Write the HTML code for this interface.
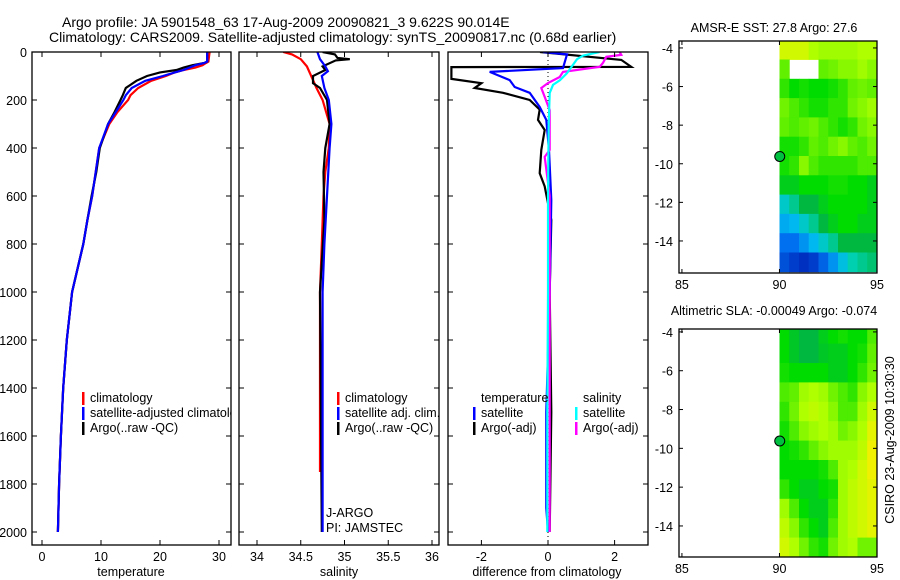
<!DOCTYPE html>
<html><head><meta charset="utf-8"><style>
html,body{margin:0;padding:0;background:#fff}
svg{display:block;font-family:"Liberation Sans",sans-serif}
</style></head><body>
<svg id="c" width="900" height="580" viewBox="0 0 900 580" xmlns="http://www.w3.org/2000/svg">
<text x="62" y="27" font-size="14">Argo profile: JA 5901548_63 17-Aug-2009 20090821_3 9.622S 90.014E</text>
<text x="49" y="42" font-size="14">Climatology: CARS2009. Satellite-adjusted climatology: synTS_20090817.nc (0.68d earlier)</text>
<text x="774" y="32" font-size="12.5" text-anchor="middle">AMSR-E SST: 27.8 Argo: 27.6</text>
<text x="774" y="315" font-size="12.5" text-anchor="middle">Altimetric SLA: -0.00049 Argo: -0.074</text>
<text transform="translate(894,440) rotate(-90)" font-size="12.5" text-anchor="middle">CSIRO 23-Aug-2009 10:30:30</text>
<defs>
<clipPath id="cp1"><rect x="32" y="52" width="199" height="493"/></clipPath>
<clipPath id="cp2"><rect x="239" y="52" width="200" height="493"/></clipPath>
<clipPath id="cp3"><rect x="448" y="52" width="200" height="493"/></clipPath>
</defs>
<g id="p1" clip-path="url(#cp1)"></g>
<g id="p2" clip-path="url(#cp2)"></g>
<g id="p3" clip-path="url(#cp3)"></g>
<g id="ax"></g>
<g id="m1"></g>
<g id="m2"></g>
</svg>
<script>
// ---- profile data ----
const tDepth = [0,40,46,55,65,75,85,100,120,150,180,200,250,300,400,500,600,700,800,1000,1200,1400,1600,1800,2000];
const tClim  = [28.4,28.2,27.8,27.2,26,24,22.5,21,18.5,16.3,15,14.6,12.8,11.4,9.7,9.1,8.5,7.7,7.0,5.1,4.2,3.6,3.2,2.9,2.7];
const tSat   = [28,28,27.5,26,25,24,22.5,20.5,17.5,15.2,14.2,13.8,12.5,11.2,9.7,9.1,8.5,7.7,7.0,5.1,4.2,3.6,3.2,2.9,2.7];
const tArgo  = [28,28,27.5,25.5,24,22.8,20,17.8,16,14.2,13.7,13.3,12.3,11.2,9.8,9.2,8.4,7.7,7.0,5.1,4.2,3.6,3.2,2.9,2.7];

const sClimDepth = [0,10,30,60,100,150,200,300,400,500,600,800,1000,1500,1750];
const sClim      = [34.30,34.4,34.5,34.57,34.62,34.68,34.75,34.83,34.82,34.78,34.76,34.74,34.72,34.72,34.72];
const sSatDepth  = [0,30,60,80,100,150,200,300,400,600,800,1000,1500,2000];
const sSat       = [34.69,34.72,34.78,34.81,34.74,34.77,34.82,34.85,34.83,34.8,34.77,34.75,34.75,34.75];
const sArgoDepth = [0,10,25,30,35,60,75,100,130,150,200,300,400,500,700,1000,1500,2000];
const sArgo      = [34.75,34.89,34.92,35.06,34.9,34.75,34.78,34.64,34.64,34.72,34.8,34.83,34.78,34.76,34.77,34.72,34.73,34.74];

const dTArgoDepth = [0,33,62,63,112,130,150,170,200,240,283,325,408,505,560,700,1000,1500,2000];
const dTArgo      = [-0.24,2.2,2.5,-2.9,-2.9,-2.0,-2.2,-1.35,-0.55,-0.25,-0.3,-0.1,-0.2,-0.25,-0.1,0.1,0.05,0.1,0.05];
const dTSatDepth  = [0,10,67,83,117,146,170,229,283,408,617,1000,1500,1900,2000];
const dTSat       = [-0.15,0.57,0.45,-1.75,-1.15,-1.0,-0.55,-0.25,-0.05,0.03,0.1,0.05,-0.05,-0.05,0];
const dSSatDepth  = [0,15,30,88,117,137,171,300,600,1000,1500,2000];
const dSSat       = [1.55,1.05,0.87,0.57,0.36,0.15,0.05,0.02,0,0,-0.02,-0.02];
const dSArgoDepth = [0,12,20,46,62,83,104,129,150,187,242,408,437,600,1000,1500,2000];
const dSArgo      = [2.15,2.2,1.75,1.65,1.55,0.45,0.35,0,-0.2,-0.1,0.05,0.05,-0.1,0.05,0.05,0.05,0.05];

// ---- map data (colour index 0..1), rows from north, columns 90..95 by 0.5 deg ----
const sstRows = [
[0.85,0.85,0.85,0.8,0.78,0.78,0.78,0.78,0.8,0.8],
[0.7,null,null,null,0.7,0.72,0.75,0.75,0.78,0.75],
[0.65,0.6,0.62,0.6,0.6,0.62,0.65,0.7,0.72,0.7],
[0.72,0.68,0.65,0.62,0.62,0.65,0.65,0.72,0.75,0.78],
[0.7,0.68,0.7,0.72,0.68,0.65,0.62,0.65,0.72,0.75],
[0.62,0.62,0.65,0.7,0.68,0.72,0.75,0.7,0.68,0.72],
[0.62,0.65,0.75,0.68,0.65,0.65,0.65,0.65,0.68,0.68],
[0.58,0.58,0.6,0.6,0.6,0.62,0.62,0.6,0.6,0.58],
[0.45,0.5,0.55,0.55,0.58,0.6,0.6,0.6,0.6,0.58],
[0.38,0.4,0.45,0.5,0.55,0.58,0.6,0.6,0.58,0.58],
[0.3,0.3,0.35,0.4,0.45,0.5,0.55,0.55,0.55,0.55],
[0.25,0.22,0.2,0.22,0.28,0.35,0.42,0.48,0.5,0.52]];
const slaRows = [
[0.6,0.57,0.55,0.55,0.58,0.6,0.62,0.6,0.6,0.68],
[0.6,0.57,0.55,0.55,0.57,0.58,0.58,0.6,0.62,0.7],
[0.62,0.6,0.6,0.6,0.6,0.58,0.58,0.6,0.65,0.72],
[0.68,0.7,0.78,0.8,0.78,0.72,0.68,0.65,0.75,0.8],
[0.65,0.72,0.8,0.82,0.8,0.75,0.68,0.68,0.78,0.85],
[0.62,0.68,0.75,0.78,0.8,0.78,0.72,0.75,0.8,0.88],
[0.6,0.62,0.65,0.7,0.75,0.78,0.78,0.78,0.82,0.9],
[0.6,0.6,0.6,0.6,0.62,0.68,0.78,0.8,0.85,0.9],
[0.65,0.6,0.58,0.58,0.6,0.62,0.78,0.82,0.85,0.88],
[0.78,0.68,0.6,0.58,0.58,0.65,0.78,0.82,0.85,0.88],
[0.82,0.75,0.65,0.6,0.58,0.68,0.78,0.82,0.85,0.88],
[0.85,0.8,0.72,0.65,0.62,0.72,0.78,0.8,0.72,0.72]];
const mapLon0 = 90, mapDLon = 0.5, mapLat0 = -3.6, mapDLat = 1;
const floatLon = 90.014, floatLat = -9.622;

const NS='http://www.w3.org/2000/svg';
function mk(parent,tag,attrs){const e=document.createElementNS(NS,tag);for(const k in attrs)e.setAttribute(k,attrs[k]);parent.appendChild(e);return e;}
const yD = d => 52 + d*0.24;
const xT = v => 42 + v*5.9;
const xS = v => 257 + (v-34)*87.5;
const xDf = v => 548 + v*33.3;

function line(g,xs,ds,xf,col,name){
  const pts = xs.map((v,i)=>xf(v).toFixed(1)+','+yD(ds[i]).toFixed(1)).join(' ');
  const p = mk(g,'polyline',{points:pts,fill:'none',stroke:col,'stroke-width':2.2});
  
  
}
const p1=document.getElementById('p1'),p2=document.getElementById('p2'),p3=document.getElementById('p3'),ax=document.getElementById('ax');
line(p1,tClim,tDepth,xT,'#f00','temp-climatology-line');
line(p1,tArgo,tDepth,xT,'#000','temp-argo-line');
line(p1,tSat,tDepth,xT,'#00f','temp-satellite-line');
line(p2,sClim,sClimDepth,xS,'#f00','sal-climatology-line');
line(p2,sArgo,sArgoDepth,xS,'#000','sal-argo-line');
line(p2,sSat,sSatDepth,xS,'#00f','sal-satellite-line');
const zl = mk(p3,'line',{x1:xDf(0),x2:xDf(0),y1:52,y2:545,stroke:'#000','stroke-dasharray':'1,3'});


line(p3,dTArgo,dTArgoDepth,xDf,'#000','temp-diff-argo-line');
line(p3,dTSat,dTSatDepth,xDf,'#00f','temp-diff-satellite-line');
line(p3,dSArgo,dSArgoDepth,xDf,'#f0f','sal-diff-argo-line');
line(p3,dSSat,dSSatDepth,xDf,'#0ff','sal-diff-satellite-line');

function txt(g,x,y,s,anchor,name,size){
  const t=mk(g,'text',{x:x,y:y,'font-size':size||12.5,'text-anchor':anchor||'start'});t.textContent=s;
  
  
  return t;
}
function legend(g,x,y,col,label,name){
  if(col) mk(g,'rect',{x:x,y:y-10,width:2.5,height:13,fill:col});
  txt(g,x+8,y,label,'start',name);
}
legend(p1,82,402,'#f00','climatology','legend-climatology');
legend(p1,82,417,'#00f','satellite-adjusted climatology','legend-satellite');
legend(p1,82,432,'#000','Argo(..raw -QC)','legend-argo');
legend(p2,337,402,'#f00','climatology','legend-climatology-2');
legend(p2,337,417,'#00f','satellite adj. clim.','legend-satellite-2');
legend(p2,337,432,'#000','Argo(..raw -QC)','legend-argo-2');
txt(p2,326,517,'J-ARGO','start','j-argo-label');
txt(p2,326,532,'PI: JAMSTEC','start','pi-label');
txt(p3,481,402,'temperature','start','legend-temperature-head');
legend(p3,473,417,'#00f','satellite','legend-temp-satellite');
legend(p3,473,432,'#000','Argo(-adj)','legend-temp-argo');
txt(p3,583,402,'salinity','start','legend-salinity-head');
legend(p3,575,417,'#0ff','satellite','legend-sal-satellite');
legend(p3,575,432,'#f0f','Argo(-adj)','legend-sal-argo');

// axes
const panels=[[32,231,xT,[0,10,20,30],'temperature',131],[239,439,xS,[34,34.5,35,35.5,36],'salinity',339],[448,648,xDf,[-2,0,2],'difference from climatology',547]];
const depthTicks=[0,200,400,600,800,1000,1200,1400,1600,1800,2000];
panels.forEach((p,i)=>{
  const r=mk(ax,'rect',{x:p[0],y:52,width:p[1]-p[0],height:493,fill:'none',stroke:'#000','stroke-width':1.3});
  
  
  p[3].forEach(v=>{const x=p[2](v);
    mk(ax,'line',{x1:x,x2:x,y1:52,y2:57,stroke:'#000'});
    mk(ax,'line',{x1:x,x2:x,y1:545,y2:540,stroke:'#000'});
    txt(ax,x,561,String(v),'middle','x-tick-label');
  });
  txt(ax,p[5],576,p[4],'middle','x-axis-title');
  depthTicks.forEach(d=>{const y=yD(d);
    mk(ax,'line',{x1:p[0],x2:p[0]+5,y1:y,y2:y,stroke:'#000'});
    mk(ax,'line',{x1:p[1],x2:p[1]-5,y1:y,y2:y,stroke:'#000'});
    if(i===0) txt(ax,27,y+5,String(d),'end','y-tick-label');
  });
});

// maps
const stops=[[0.2,[0,48,192]],[0.3,[0,112,240]],[0.4,[0,184,240]],[0.48,[0,208,176]],[0.55,[0,184,64]],[0.6,[0,220,0]],[0.7,[96,240,0]],[0.8,[176,255,0]],[0.9,[240,240,0]],[1.0,[255,192,0]]];
function cmap(v){
  if(v<=stops[0][0])return 'rgb('+stops[0][1]+')';
  for(let i=1;i<stops.length;i++){if(v<=stops[i][0]){const a=stops[i-1],b=stops[i],t=(v-a[0])/(b[0]-a[0]);
    return 'rgb('+a[1].map((c,k)=>Math.round(c+(b[1][k]-c)*t)).join(',')+')';}}
  return 'rgb('+stops[stops.length-1][1]+')';
}
function drawMap(g,rows,top,bottom,latTop,latBot){
  const L=679,R=877,lonL=84.85,lonR=95;
  const xm=lon=>L+(lon-lonL)*(R-L)/(lonR-lonL);
  const ym=lat=>top+(latTop-lat)*(bottom-top)/(latTop-latBot);
  rows.forEach((row,ri)=>row.forEach((v,ci)=>{
    if(v===null)return;
    const x0=xm(mapLon0+ci*mapDLon),x1=xm(mapLon0+(ci+1)*mapDLon);
    const y0=ym(mapLat0-ri*mapDLat),y1=ym(Math.max(mapLat0-(ri+1)*mapDLat,latBot));
    const r=mk(g,'rect',{x:x0.toFixed(1),y:Math.max(y0,top).toFixed(1),width:(x1-x0+0.4).toFixed(1),height:(y1-Math.max(y0,top)+0.4).toFixed(1),fill:cmap(v)});
    
    
  }));
  const fr=mk(g,'rect',{x:L,y:top,width:R-L,height:bottom-top,fill:'none',stroke:'#000','stroke-width':1.3});
  
  
  [85,90,95].forEach(lon=>{const x=xm(lon);
    mk(g,'line',{x1:x,x2:x,y1:top,y2:top+4,stroke:'#000'});
    mk(g,'line',{x1:x,x2:x,y1:bottom,y2:bottom-4,stroke:'#000'});
    txt(g,x,bottom+16,String(lon),'middle','map-x-tick-label');});
  [-4,-6,-8,-10,-12,-14].forEach(lat=>{const y=ym(lat);
    mk(g,'line',{x1:L,x2:L+4,y1:y,y2:y,stroke:'#000'});
    mk(g,'line',{x1:R,x2:R-4,y1:y,y2:y,stroke:'#000'});
    txt(g,673,y+5,String(lat),'end','map-y-tick-label');});
  const c=mk(g,'circle',{cx:xm(floatLon),cy:ym(floatLat),r:5,fill:'#00c040',stroke:'#000','stroke-width':1});
  
  
}
drawMap(document.getElementById('m1'),sstRows,41,273,-3.64,-15.66);
drawMap(document.getElementById('m2'),slaRows,329,557,-3.85,-15.6);
</script>
</body></html>
